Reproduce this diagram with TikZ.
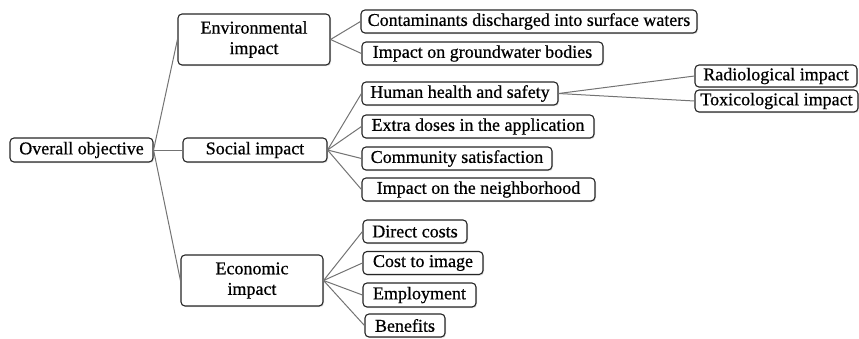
\documentclass[tikz,border=0pt]{standalone}
\usepackage{fontspec}
\setmainfont{Liberation Serif}
\newfontfamily\tmsfont[FakeBold=0.6]{Liberation Serif}
\usetikzlibrary{shadows}
\begin{document}
\begin{tikzpicture}[x=1pt,y=-1pt,
  box/.style={draw=black!85, line width=1.1pt, rounded corners=4pt, fill=white,
    inner sep=0pt, align=center, minimum height=23pt,
    font=\tmsfont\fontsize{18}{20.5}\selectfont,
    drop shadow={opacity=0.25, shadow xshift=1pt, shadow yshift=-1.2pt}},
  link/.style={draw=black!55, line width=1pt}]
\useasboundingbox (0,0) rectangle (859,338);
% level 0
\node[box, minimum width=143pt, minimum height=24pt] (ov) at (81.5,150) {Overall objective};
% level 1
\node[box, minimum width=152pt, minimum height=51pt] (env) at (254,39.5) {Environmental\\impact};
\node[box, minimum width=144pt, minimum height=24pt] (soc) at (255,150) {Social impact};
\node[box, minimum width=142pt, minimum height=51pt] (eco) at (252,280.5) {Economic\\impact};
% level 2
\node[box, minimum width=336pt] (c1) at (529,21.5) {Contaminants discharged into surface waters};
\node[box, minimum width=241pt] (c2) at (482.5,53.5) {Impact on groundwater bodies};
\node[box, minimum width=196pt] (s1) at (460,93.5) {Human health and safety};
\node[box, minimum width=232pt] (s2) at (478,126.5) {Extra doses in the application};
\node[box, minimum width=190pt] (s3) at (457,158.5) {Community satisfaction};
\node[box, minimum width=233pt] (s4) at (478.5,189.5) {Impact on the neighborhood};
\node[box, minimum width=104pt] (e1) at (415,231.5) {Direct costs};
\node[box, minimum width=120pt] (e2) at (423,263) {Cost to image};
\node[box, minimum width=113pt, minimum height=24pt] (e3) at (419.5,295) {Employment};
\node[box, minimum width=80pt] (e4) at (405,325.5) {Benefits};
% level 3
\node[box, minimum width=162pt, minimum height=22pt] (r1) at (776,76) {Radiological impact};
\node[box, minimum width=163pt, minimum height=22pt] (r2) at (776.5,101) {Toxicological impact};
% connectors
\foreach \c in {env,soc,eco} \draw[link] (ov.east) -- (\c.west);
\foreach \c in {c1,c2} \draw[link] (env.east) -- (\c.west);
\foreach \c in {s1,s2,s3,s4} \draw[link] (soc.east) -- (\c.west);
\foreach \c in {e1,e2,e3,e4} \draw[link] (eco.east) -- (\c.west);
\foreach \c in {r1,r2} \draw[link] (s1.east) -- (\c.west);
\end{tikzpicture}
\end{document}
